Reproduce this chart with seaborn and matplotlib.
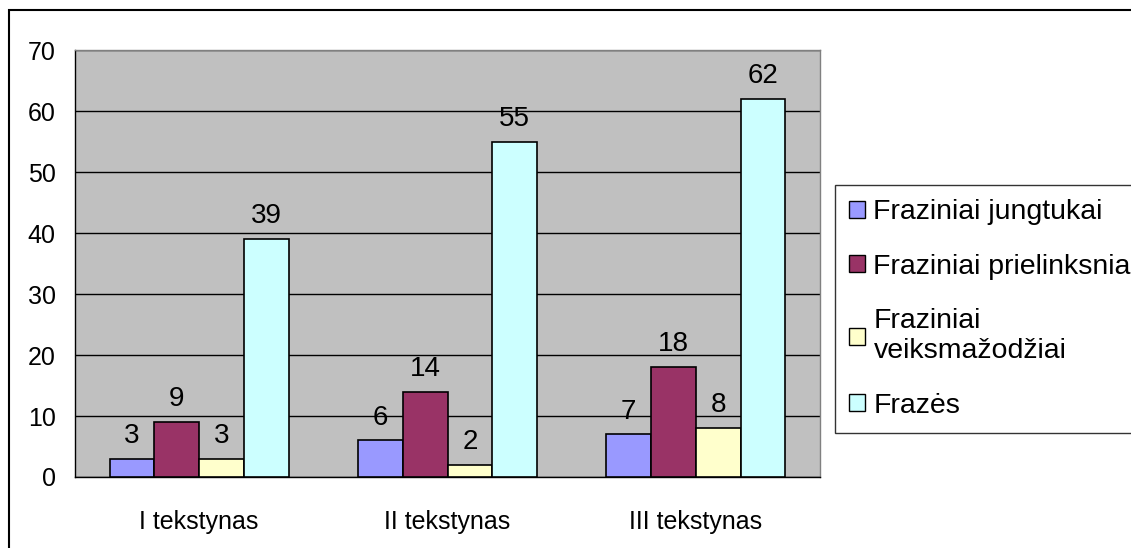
import matplotlib
matplotlib.use("Agg")
import matplotlib.pyplot as plt
import matplotlib.patches as mpatches
import pandas as pd
import seaborn as sns

categories = ["I tekstynas", "II tekstynas", "III tekstynas"]
series = ["Fraziniai jungtukai", "Fraziniai prielinksnia",
          "Fraziniai\nveiksmažodžiai", "Frazės"]
jungtukai = [3, 6, 7]
prielinksniai = [9, 14, 18]
veiksmazodziai = [3, 2, 8]
frazes = [39, 55, 62]
colors = ["#9999FF", "#993366", "#FFFFCC", "#CCFFFF"]
y_ticks = [0, 10, 20, 30, 40, 50, 60, 70]

rows = []
for name, vals in zip(series, [jungtukai, prielinksniai, veiksmazodziai, frazes]):
    for cat, v in zip(categories, vals):
        rows.append({"tekstynas": cat, "serija": name, "kiekis": v})
df = pd.DataFrame(rows)

sns.set_style("white")
plt.rcParams["font.family"] = ["Liberation Sans", "DejaVu Sans"]
plt.rcParams["text.color"] = "black"
plt.rcParams["xtick.labelcolor"] = "black"
plt.rcParams["ytick.labelcolor"] = "black"

fig = plt.figure(figsize=(11.31, 5.48), dpi=100)
ax = fig.add_axes([75 / 1131, 1 - 477 / 548, 745 / 1131, 427 / 548])
ax.set_facecolor("#C0C0C0")

sns.barplot(data=df, x="tekstynas", y="kiekis", hue="serija",
            order=categories, hue_order=series, palette=colors,
            saturation=1, width=0.72, edgecolor="black", linewidth=1.2,
            errorbar=None, ax=ax, zorder=3)

for cont in ax.containers:
    ax.bar_label(cont, padding=7, fontsize=20, color="black")

ax.set_ylim(0, 70)
ax.set_xlim(-0.5, 2.5)
ax.set_yticks(y_ticks)
ax.yaxis.grid(True, color="black", linewidth=1, zorder=0)
ax.set_axisbelow(True)
ax.set_xlabel("")
ax.set_ylabel("")
ax.tick_params(axis="y", labelsize=18, length=6, width=1, color="black",
               labelcolor="black", pad=8)
ax.tick_params(axis="x", which="major", labelsize=18, length=0,
               labelcolor="black", pad=24)
ax.set_xticks([-0.5, 0.5, 1.5, 2.5], minor=True)
ax.tick_params(axis="x", which="minor", length=6, width=1, color="black")

for side in ["top", "right"]:
    ax.spines[side].set_color("#808080")
    ax.spines[side].set_linewidth(1)
for side in ["left", "bottom"]:
    ax.spines[side].set_color("black")
    ax.spines[side].set_linewidth(1)

handles = [mpatches.Patch(facecolor=c, edgecolor="black", linewidth=1) for c in colors]
leg = ax.legend(handles, series, loc="upper left",
                bbox_to_anchor=(835 / 1131, 1 - 185 / 548),
                bbox_transform=fig.transFigure, fontsize=20.5,
                frameon=True, fancybox=False, edgecolor="black",
                handlelength=0.55, handleheight=0.55, handletextpad=0.3,
                labelspacing=1.0, borderpad=0.5, borderaxespad=0)
leg.get_frame().set_linewidth(1)
for t in leg.get_texts():
    t.set_color("black")

border = mpatches.Rectangle((9 / 1131, -0.1), 1.2, 1.1 - 10 / 548,
                            transform=fig.transFigure, fill=False,
                            edgecolor="black", linewidth=1.5)
fig.patches.append(border)

fig.savefig("out.png", dpi=100)
